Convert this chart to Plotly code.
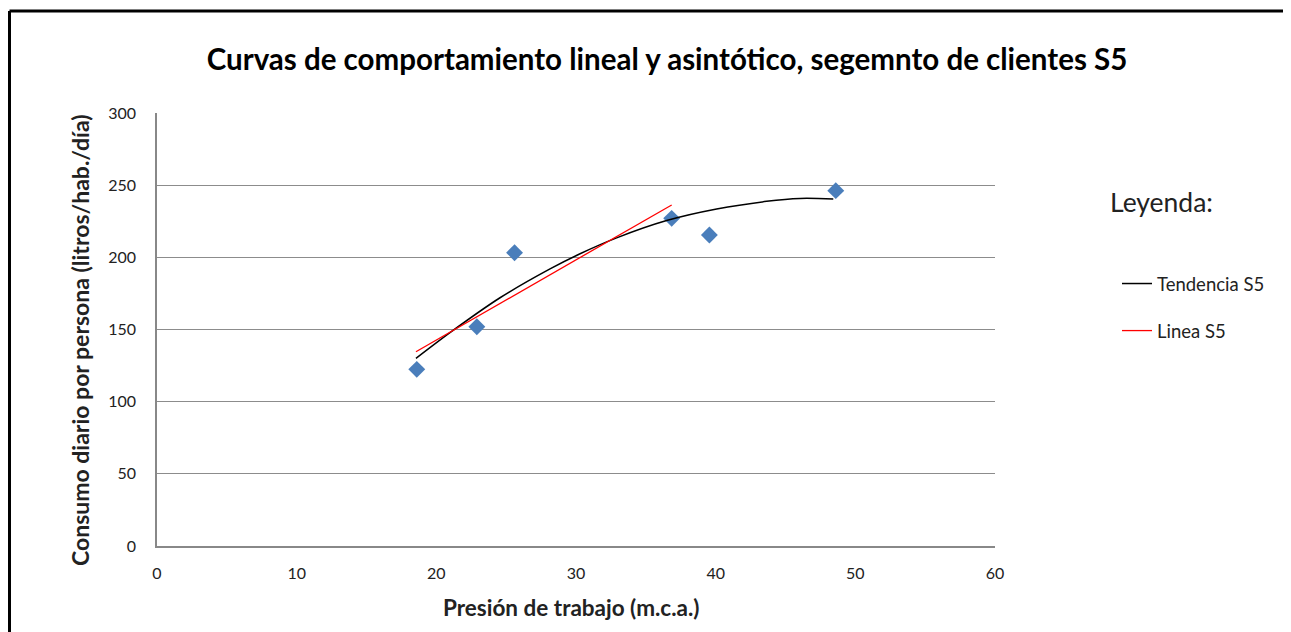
import plotly.graph_objects as go

# Observed data points (segment S5)
presion = [18.6, 22.9, 25.6, 36.85, 39.55, 48.6]
consumo = [122.4, 151.9, 203.2, 227.0, 215.5, 246.2]

# Trend curve (asymptotic)
tend_x = [18.54, 21.0, 24.56, 28.14, 30.29, 32.91, 36.49, 40.07, 43.65, 46.04, 48.42]
tend_y = [130.0, 148.0, 172.0, 192.0, 202.5, 213.5, 225.5, 233.5, 238.8, 240.8, 240.5]

# Linear line
linea_x = [18.54, 36.85]
linea_y = [134.6, 236.3]

x_ticks = [0, 10, 20, 30, 40, 50, 60]
y_ticks = [0, 50, 100, 150, 200, 250, 300]

OFF = 8  # page body margin
W, H = 1291 - OFF, 632 - OFF
L, R, T, B = 157 - OFF, 995 - OFF, 113 - OFF, 546 - OFF


def px(xp):
    return (xp - OFF - L) / (R - L)


def py(yp):
    return (B - (yp - OFF)) / (B - T)


font_family = "Lato, Open Sans, DejaVu Sans, sans-serif"

fig = go.Figure()
fig.add_trace(go.Scatter(
    x=presion, y=consumo, mode="markers", showlegend=False,
    marker=dict(symbol="diamond", size=13, color="#4A7EBB"),
))
fig.add_trace(go.Scatter(
    x=tend_x, y=tend_y, mode="lines", name="Tendencia S5",
    line=dict(color="#000000", width=1.5, shape="spline", smoothing=0.8), legendgroup="a",
))
fig.add_trace(go.Scatter(
    x=linea_x, y=linea_y, mode="lines", name="Linea S5",
    line=dict(color="#FF0000", width=1.3), legendgroup="b",
))

fig.update_layout(
    width=W, height=H,
    margin=dict(l=L, r=W - R, t=T, b=H - B, autoexpand=False),
    paper_bgcolor="white", plot_bgcolor="white",
    font=dict(family=font_family, color="#222"),
    title=dict(
        text="<b>Curvas de comportamiento lineal y asintótico, segemnto de clientes S5</b>",
        x=(667 - OFF) / W, xanchor="center", y=1 - (60 - OFF) / H, yanchor="middle",
        font=dict(size=29.5, color="#000", family=font_family),
    ),
    xaxis=dict(
        range=[0, 60], tickvals=x_ticks, showgrid=False, zeroline=False,
        showline=True, linecolor="#888", linewidth=1.5,
        tickfont=dict(size=16, color="#222"), ticks="", ticklabelstandoff=12,
        fixedrange=True,
    ),
    yaxis=dict(
        range=[0, 300], tickvals=y_ticks, showgrid=True, gridcolor="#8c8c8c", gridwidth=1.3,
        zeroline=False, showline=True, linecolor="#888", linewidth=1.5,
        tickfont=dict(size=16, color="#222"), ticks="", ticklabelstandoff=16,
        fixedrange=True,
    ),
    legend=dict(
        x=px(1117), xanchor="left", y=py(265), yanchor="top",
        font=dict(size=18.5, color="#222"), tracegroupgap=20,
        bgcolor="rgba(0,0,0,0)", traceorder="grouped",
    ),
    annotations=[
        dict(text="Leyenda:", x=px(1108), y=py(202), xref="paper", yref="paper",
             xanchor="left", yanchor="middle", showarrow=False,
             font=dict(size=26.5, color="#222")),
        dict(text="<b>Presión de trabajo (m.c.a.)</b>", x=px(571), y=py(607),
             xref="paper", yref="paper", xanchor="center", yanchor="middle",
             showarrow=False, font=dict(size=22.5, color="#222")),
        dict(text="<b>Consumo diario por persona (litros/hab./día)</b>", x=px(80), y=py(340),
             xref="paper", yref="paper", xanchor="center", yanchor="middle", textangle=-90,
             showarrow=False, font=dict(size=23, color="#222")),
    ],
    shapes=[
        dict(type="line", xref="paper", yref="paper", x0=px(9.5), x1=px(1300), y0=py(11), y1=py(11),
             line=dict(color="black", width=3)),
        dict(type="line", xref="paper", yref="paper", x0=px(9.5), x1=px(9.5), y0=py(11), y1=py(650),
             line=dict(color="black", width=3)),
    ],
)

fig.write_html("out.html")
